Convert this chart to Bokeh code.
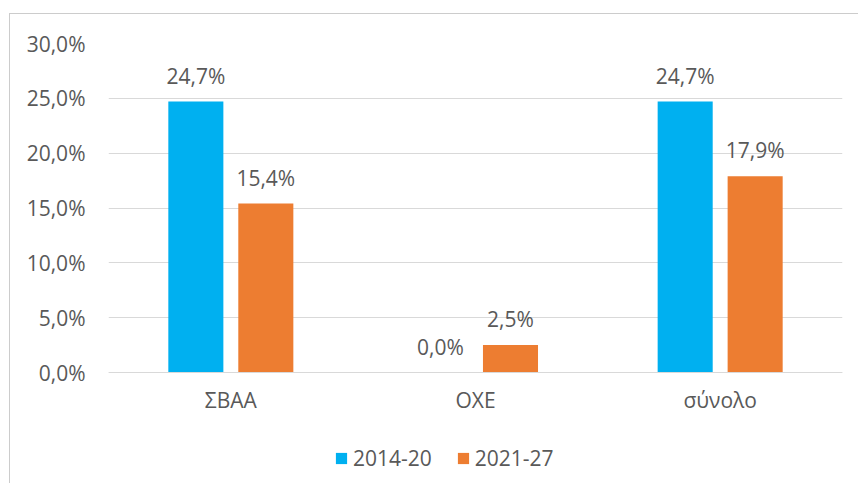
from bokeh.plotting import figure
from bokeh.models import (FactorRange, Range1d, CustomJSTickFormatter, ColumnDataSource,
                          Legend, LegendItem, FixedTicker)
from bokeh.transform import dodge
from bokeh.core.properties import value
from bokeh.embed import file_html
from bokeh.resources import INLINE

categories = ["ΣΒΑΑ", "ΟΧΕ", "σύνολο"]
series_names = ["2014-20", "2021-27"]
values_2014_20 = [24.7, 0.0, 24.7]
values_2021_27 = [15.4, 2.5, 17.9]
y_ticks = [0, 5, 10, 15, 20, 25, 30]

BLUE = "#00B0F0"
ORANGE = "#ED7D31"
TXT = "#595959"
GRID = "#d9d9d9"
FONT = "Open Sans"
FS = "21px"


def fmt(v):
    return f"{v:.1f}".replace(".", ",") + "%"


source = ColumnDataSource(data=dict(
    cat=categories,
    v1=values_2014_20,
    v2=values_2021_27,
    l1=[fmt(v) for v in values_2014_20],
    l2=[fmt(v) for v in values_2021_27],
))

# layout (pixels inside the figure)
W, H = 849, 470
TOP, BOTTOM_BORDER = 29, 4
ZERO_PX = 358                      # y pixel of the 0% line
FRAME_BOTTOM = H - BOTTOM_BORDER
y_max = y_ticks[-1]
y_min = -y_max * (FRAME_BOTTOM - ZERO_PX) / (ZERO_PX - TOP)

p = figure(x_range=FactorRange(factors=categories), y_range=Range1d(y_min, y_max),
           width=W, height=H, output_backend="svg", toolbar_location=None,
           min_border_left=98, min_border_right=17, min_border_top=TOP,
           min_border_bottom=BOTTOM_BORDER,
           background_fill_color="white", border_fill_color="white")
p.margin = (13, 0, 0, 9)
p.styles = {"border-left": "1px solid #cccccc", "border-top": "1px solid #cccccc"}
p.outline_line_color = None

OFF = 0.143
BW = 0.225
r1 = p.vbar(x=dodge("cat", -OFF, range=p.x_range), top="v1", width=BW, source=source,
            fill_color=BLUE, line_color=None)
r2 = p.vbar(x=dodge("cat", OFF, range=p.x_range), top="v2", width=BW, source=source,
            fill_color=ORANGE, line_color=None)

for xoff, col in ((-OFF, "v1"), (OFF, "v2")):
    p.text(x=dodge("cat", xoff, range=p.x_range), y=col, text="l" + col[1], source=source,
           text_align="center", text_baseline="alphabetic", y_offset=-26,
           text_font=value(FONT), text_font_size=FS, text_color=TXT)

p.yaxis.ticker = FixedTicker(ticks=y_ticks)
p.yaxis.formatter = CustomJSTickFormatter(code="return tick.toFixed(1).replace('.', ',') + '%';")
p.yaxis.axis_line_color = None
p.yaxis.major_tick_line_color = None
p.yaxis.minor_tick_line_color = None
p.yaxis.major_label_standoff = 17
p.yaxis.major_label_text_font = FONT
p.yaxis.major_label_text_font_size = FS
p.yaxis.major_label_text_color = TXT

p.xaxis.fixed_location = 0
p.xaxis.axis_line_color = GRID
p.xaxis.major_tick_line_color = None
p.xaxis.minor_tick_line_color = None
p.xaxis.major_label_standoff = 7
p.xaxis.major_label_text_font = FONT
p.xaxis.major_label_text_font_size = FS
p.xaxis.major_label_text_color = TXT

p.ygrid.grid_line_color = GRID
p.xgrid.grid_line_color = None

legend = Legend(items=[LegendItem(label=series_names[0], renderers=[r1]),
                       LegendItem(label=series_names[1], renderers=[r2])],
                orientation="horizontal", location=(226, 8),
                glyph_width=14, glyph_height=14, label_standoff=5, spacing=24,
                padding=0, margin=0, border_line_color=None, background_fill_alpha=0,
                label_text_font=FONT, label_text_font_size=FS, label_text_color=TXT,
                label_height=20)
p.add_layout(legend)

open("out.html", "w").write(file_html(p, INLINE))
